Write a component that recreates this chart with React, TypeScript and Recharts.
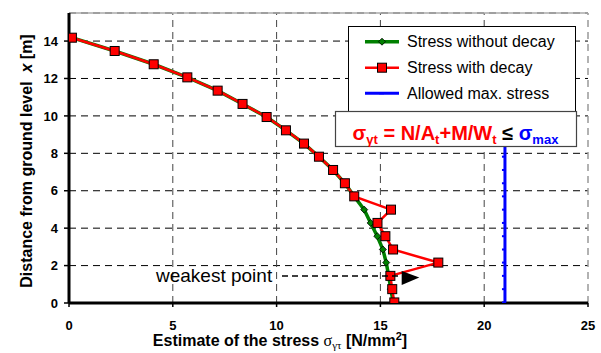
import React from 'react';
import { ScatterChart, Scatter, XAxis, YAxis, CartesianGrid, ReferenceLine } from 'recharts';

// Heights above ground level x [m]
const heights = [0.03, 0.74, 1.45, 2.16, 2.86, 3.57, 4.28, 4.99, 5.70, 6.40, 7.11, 7.82, 8.52, 9.23, 9.94, 10.64, 11.35, 12.06, 12.76, 13.47, 14.18];
// Stress with decay [N/mm2]
const stressWithDecay = [15.67, 15.57, 15.48, 17.79, 15.61, 15.24, 14.86, 15.51, 13.74, 13.29, 12.72, 12.04, 11.32, 10.45, 9.52, 8.36, 7.16, 5.70, 4.08, 2.20, 0.14];
// Stress without decay [N/mm2]
const stressWithoutDecay = [15.62, 15.50, 15.40, 15.28, 15.12, 14.85, 14.53, 14.22, 13.74, 13.29, 12.72, 12.04, 11.32, 10.45, 9.52, 8.36, 7.16, 5.70, 4.08, 2.20, 0.14];
const maxStress = 21;

const xTicks = [0, 5, 10, 15, 20, 25];
const yTicks = [0, 2, 4, 6, 8, 10, 12, 14];
const vGrid = [5, 10, 15, 20];

const decayData = heights.map((h, i) => ({ s: stressWithDecay[i], h }));
const noDecayData = heights.map((h, i) => ({ s: stressWithoutDecay[i], h }));
const maxData = heights.map((h) => ({ s: maxStress, h }));

const FONT = '"Liberation Sans", Arial, Helvetica, sans-serif';

const Square = (props: any) => {
  const { cx, cy } = props;
  if (cx == null || cy == null) return null;
  return <rect x={cx - 4.5} y={cy - 4.5} width={9} height={9} fill="#ff0000" stroke="#000" strokeWidth={1} />;
};

const Diamond = (props: any) => {
  const { cx, cy } = props;
  if (cx == null || cy == null) return null;
  const r = 3.5;
  return <polygon points={`${cx},${cy - r} ${cx + r},${cy} ${cx},${cy + r} ${cx - r},${cy}`} fill="#008000" stroke="#000" strokeWidth={0.8} />;
};

const BlueMark = (props: any) => {
  const { cx, cy } = props;
  if (cx == null || cy == null) return null;
  return <rect x={cx - 3} y={cy - 1} width={4} height={2} fill="#0000ff" />;
};

export default function App() {
  return (
    <div style={{ position: 'absolute', left: 0, top: 0, width: 601, height: 353, background: '#fff' }}>
      <ScatterChart width={601} height={353} margin={{ top: 13, right: 13, bottom: 0, left: 0 }}>
        <CartesianGrid vertical={false} stroke="#000" strokeDasharray="7 5" strokeWidth={1} />
        {vGrid.map((v) => (
          <ReferenceLine key={v} x={v} stroke="#444" strokeDasharray="7 5" strokeWidth={1} />
        ))}
        <ReferenceLine x={25} stroke="#999" strokeDasharray="7 5" strokeWidth={1.5} />
        <ReferenceLine y={15.5} stroke="#aaa" strokeWidth={1.5} />
        <XAxis
          type="number"
          dataKey="s"
          domain={[0, 25]}
          ticks={xTicks}
          allowDataOverflow
          height={50}
          tickSize={4}
          tickMargin={14}
          axisLine={{ stroke: '#000', strokeWidth: 3 }}
          tickLine={{ stroke: '#000', strokeWidth: 1.5 }}
          tick={{ fontSize: 13, fontWeight: 'bold', fill: '#000', fontFamily: FONT }}
        />
        <YAxis
          type="number"
          dataKey="h"
          domain={[0, 15.5]}
          ticks={yTicks}
          allowDataOverflow
          width={69}
          tickSize={5}
          tickMargin={6}
          axisLine={{ stroke: '#000', strokeWidth: 3 }}
          tickLine={{ stroke: '#000', strokeWidth: 1.5 }}
          tick={{ fontSize: 13, fontWeight: 'bold', fill: '#000', fontFamily: FONT }}
        />
        <Scatter data={maxData} line={{ stroke: '#0000ff', strokeWidth: 3 }} shape={BlueMark} isAnimationActive={false} />
        <Scatter data={noDecayData} line={{ stroke: '#008000', strokeWidth: 3.5 }} shape={Diamond} isAnimationActive={false} />
        <Scatter data={decayData} line={{ stroke: '#ff0000', strokeWidth: 2.5 }} shape={Square} isAnimationActive={false} />
      </ScatterChart>
      <svg width={601} height={353} style={{ position: 'absolute', left: 0, top: 0, pointerEvents: 'none' }}>
        {/* Legend */}
        <rect x={348.5} y={26.5} width={227} height={90} fill="#fff" stroke="#000" strokeWidth={1} />
        <line x1={365} x2={399} y1={41.7} y2={41.7} stroke="#008000" strokeWidth={3.5} />
        <polygon points="382,38.2 385.5,41.7 382,45.2 378.5,41.7" fill="#008000" stroke="#000" strokeWidth={0.8} />
        <text x={407} y={47.3} fontSize={16} fontFamily={FONT} fill="#000">Stress without decay</text>
        <line x1={365} x2={399} y1={67.7} y2={67.7} stroke="#ff0000" strokeWidth={2.5} />
        <rect x={377.5} y={63.2} width={9} height={9} fill="#ff0000" stroke="#000" strokeWidth={1} />
        <text x={407} y={73.3} fontSize={16} fontFamily={FONT} fill="#000">Stress with decay</text>
        <line x1={365} x2={399} y1={93.3} y2={93.3} stroke="#0000ff" strokeWidth={3} />
        <rect x={379} y={92.3} width={5} height={2} fill="#0000ff" />
        <text x={407} y={98.9} fontSize={16} fontFamily={FONT} fill="#000">Allowed max. stress</text>
        {/* Formula box */}
        <rect x={335.5} y={111.5} width={241} height={35} fill="#fff" stroke="#444" strokeWidth={1.2} />
        <text x={455.5} y={140} textAnchor="middle" fontSize={20} fontWeight="bold" fontFamily={FONT} style={{ whiteSpace: 'pre' }}>
          <tspan fill="#ff0000">σ</tspan>
          <tspan fill="#ff0000" fontSize={13} dy={4}>γt</tspan>
          <tspan fill="#ff0000" dy={-4}>{' = N/A'}</tspan>
          <tspan fill="#ff0000" fontSize={13} dy={4}>t</tspan>
          <tspan fill="#ff0000" dy={-4}>+M/W</tspan>
          <tspan fill="#ff0000" fontSize={13} dy={4}>t</tspan>
          <tspan fill="#000" dy={-4}>{' ≤ '}</tspan>
          <tspan fill="#0000ff">σ</tspan>
          <tspan fill="#0000ff" fontSize={13} dy={4}>max</tspan>
        </text>
        {/* Weakest point annotation */}
        <text x={156} y={282} fontSize={19} fontFamily={FONT} fill="#000">weakest point</text>
        <line x1={282} x2={399} y1={276} y2={276} stroke="#000" strokeWidth={1.5} strokeDasharray="6 4" />
        <polygon points="401.7,271 419.3,277.5 401.7,285" fill="#000" />
        {/* Axis titles */}
        <text transform="translate(31.5,161) rotate(-90)" textAnchor="middle" fontSize={16} fontWeight="bold" fontFamily={FONT} fill="#000" style={{ whiteSpace: 'pre' }}>
          {'Distance from ground level  '}
          <tspan fontStyle="italic">x</tspan>
          {' [m]'}
        </text>
        <text x={280} y={346} textAnchor="middle" fontSize={16} fontWeight="bold" fontFamily={FONT} fill="#000" style={{ whiteSpace: 'pre' }}>
          {'Estimate of the stress '}
          <tspan fontFamily='"Liberation Serif", "Times New Roman", serif' fontWeight="normal">σ</tspan>
          <tspan fontFamily='"Liberation Serif", "Times New Roman", serif' fontWeight="normal" fontSize={11} dy={3}>γτ</tspan>
          <tspan dy={-3}>{' [N/mm'}</tspan>
          <tspan fontSize={11} dy={-6}>2</tspan>
          <tspan dy={6}>]</tspan>
        </text>
      </svg>
    </div>
  );
}
